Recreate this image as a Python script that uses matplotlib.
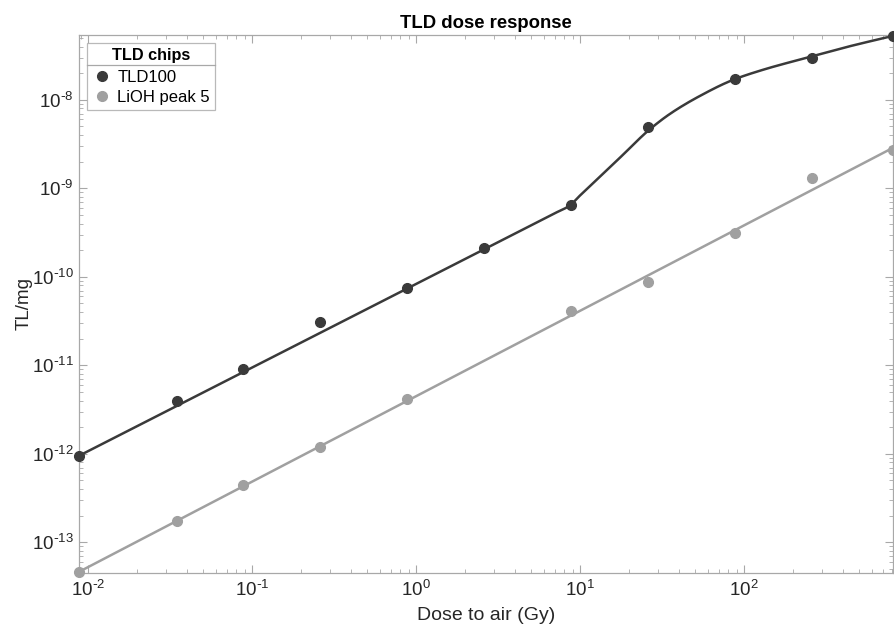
import numpy as np
import matplotlib
matplotlib.use("Agg")
import matplotlib.pyplot as plt
from matplotlib.ticker import LogLocator, NullFormatter, FuncFormatter
from matplotlib.lines import Line2D

plt.rcParams['font.family'] = ['Liberation Sans', 'DejaVu Sans']
plt.rcParams['axes.unicode_minus'] = False

# доза (Gy) и отклик TL/mg
dose = [0.0088, 0.035, 0.088, 0.26, 0.88, 2.6, 8.8, 26, 88, 260, 810]
tld100 = [9.5e-13, 4.0e-12, 9.1e-12, 3.1e-11, 7.5e-11, 2.1e-10, 6.5e-10, 4.9e-9, 1.7e-8, 3.0e-8, 5.3e-8]

dose_lioh = [0.0088, 0.035, 0.088, 0.26, 0.88, 8.8, 26, 88, 260, 810]
lioh = [4.6e-14, 1.73e-13, 4.5e-13, 1.2e-12, 4.2e-12, 4.13e-11, 8.8e-11, 3.14e-10, 1.32e-9, 2.7e-9]

# кривая аппроксимации TLD100
fit_tld_x = [0.0088, 0.1, 1.0, 3.0, 7.0, 8.6, 10.0, 13.2, 18.0, 26.0, 35.4, 54, 85.7, 130, 253, 425, 810]
fit_tld_y = [9.5e-13, 9.44e-12, 8.3e-11, 2.34e-10, 5.22e-10, 6.34e-10, 8.3e-10, 1.35e-9, 2.33e-9,
             4.47e-9, 6.95e-9, 1.11e-8, 1.68e-8, 2.18e-8, 3.06e-8, 3.96e-8, 5.28e-8]

# прямая аппроксимации LiOH
fit_lioh_x = [0.0088, 810]
fit_lioh_y = [4.64e-14, 2.87e-9]

x_ticks = [1e-2, 1e-1, 1e0, 1e1, 1e2]
y_ticks = [1e-13, 1e-12, 1e-11, 1e-10, 1e-9, 1e-8]

dark = '#3a3a3a'
light = '#a0a0a0'
axis_col = '#a8a8a8'
text_col = '#262626'


def smooth_loglog(xs, ys, n=500):
    """Гладкая (PCHIP) кривая через опорные точки в лог-лог координатах."""
    x = np.log10(xs)
    y = np.log10(ys)
    h = np.diff(x)
    d = np.diff(y) / h
    m = np.zeros_like(x)
    m[0], m[-1] = d[0], d[-1]
    for k in range(1, len(x) - 1):
        if d[k - 1] * d[k] > 0:
            w1 = 2 * h[k] + h[k - 1]
            w2 = h[k] + 2 * h[k - 1]
            m[k] = (w1 + w2) / (w1 / d[k - 1] + w2 / d[k])
    xx = np.linspace(x[0], x[-1], n)
    idx = np.clip(np.searchsorted(x, xx) - 1, 0, len(h) - 1)
    t = (xx - x[idx]) / h[idx]
    h00 = 2 * t**3 - 3 * t**2 + 1
    h10 = t**3 - 2 * t**2 + t
    h01 = -2 * t**3 + 3 * t**2
    h11 = t**3 - t**2
    yy = h00 * y[idx] + h10 * h[idx] * m[idx] + h01 * y[idx + 1] + h11 * h[idx] * m[idx + 1]
    return 10**xx, 10**yy


def pow10_label(v, pos):
    e = int(round(np.log10(v)))
    if e < 0:
        return r'$\mathdefault{10^{\text{-}%d}}$' % (-e)
    return r'$\mathdefault{10^{%d}}$' % e


fig = plt.figure(figsize=(8.95, 6.31), dpi=100)
ax = fig.add_axes([79/895, 58/631, 814/895, 538/631])

cx, cy = smooth_loglog(fit_tld_x, fit_tld_y)
ax.plot(cx, cy, color=dark, linewidth=1.8, zorder=2)
ax.plot(fit_lioh_x, fit_lioh_y, color=light, linewidth=1.8, zorder=2)
ax.plot(dose, tld100, 'o', color=dark, markersize=7, label='TLD100', zorder=3, clip_on=False)
ax.plot(dose_lioh, lioh, 'o', color=light, markersize=7, label='LiOH peak 5', zorder=3, clip_on=False)

ax.set_xscale('log')
ax.set_yscale('log')
ax.set_xlim(0.0088, 810)
ax.set_ylim(4.5e-14, 5.4e-8)

ax.set_xticks(x_ticks)
ax.set_yticks(y_ticks)
ax.xaxis.set_minor_locator(LogLocator(base=10, subs=np.arange(2, 10), numticks=20))
ax.yaxis.set_minor_locator(LogLocator(base=10, subs=np.arange(2, 10), numticks=20))
ax.xaxis.set_major_formatter(FuncFormatter(pow10_label))
ax.yaxis.set_major_formatter(FuncFormatter(pow10_label))
ax.xaxis.set_minor_formatter(NullFormatter())
ax.yaxis.set_minor_formatter(NullFormatter())

ax.tick_params(which='both', direction='in', top=True, right=True, color=axis_col,
               labelcolor=text_col, labelsize=13.5)
ax.tick_params(which='major', length=6, width=0.8)
ax.tick_params(which='minor', length=3, width=0.6)
ax.tick_params(axis='x', which='major', pad=5)
ax.tick_params(axis='y', which='major', pad=4)
for s in ax.spines.values():
    s.set_color(axis_col)
    s.set_linewidth(0.9)

ax.set_xlabel('Dose to air (Gy)', fontsize=14, color=text_col, labelpad=5)
ax.set_ylabel('TL/mg', fontsize=13.5, color=text_col, labelpad=-1)
ax.set_title('TLD dose response', fontsize=13.3, fontweight='bold', color='black', pad=5)

leg = ax.legend(loc='upper left', title='TLD chips', fontsize=12, frameon=True, fancybox=False,
                edgecolor=axis_col, borderaxespad=0.5, handletextpad=0.3, handlelength=1.2,
                borderpad=0.3, labelspacing=0.3)
leg.get_title().set_fontweight('bold')
leg.get_title().set_fontsize(11.7)
leg.get_frame().set_linewidth(0.9)
leg._legend_box.sep = 5

# разделитель под заголовком легенды
fig.canvas.draw()
lb = leg.get_window_extent()
tb = leg.get_title().get_window_extent()
inv = fig.transFigure.inverted()
y_sep = tb.y0 - 2
(x0, y0) = inv.transform((lb.x0, y_sep))
(x1, _) = inv.transform((lb.x1, y_sep))
fig.add_artist(Line2D([x0, x1], [y0, y0], color=axis_col, linewidth=0.9))

plt.savefig('out.png', dpi=100)
plt.close(fig)
